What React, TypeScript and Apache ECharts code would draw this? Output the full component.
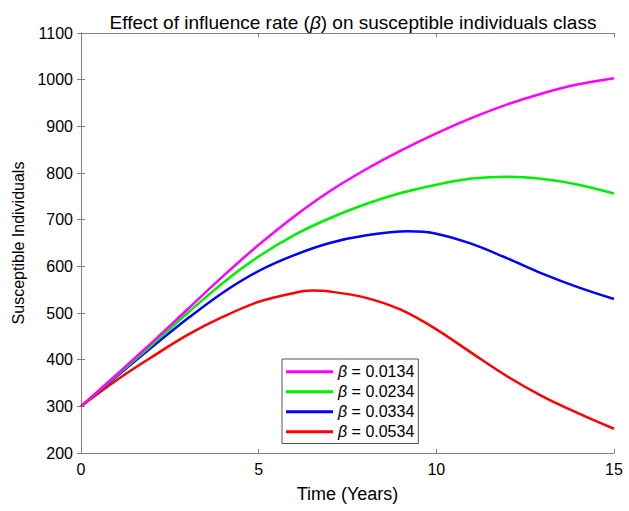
import React, { useEffect, useRef } from "react";
import * as echarts from "echarts";

const times0134 = [0, 1, 2, 3, 4, 5, 6, 7, 8, 9, 10, 11, 12, 13, 14, 15];
const beta0134 = [300, 368, 437, 508, 579, 646, 707, 761, 807, 848, 885, 918, 947, 971, 990, 1003];
const times0234 = [0, 1, 2, 3, 4, 5, 6, 7, 8, 9, 10, 11, 12, 13, 14, 15];
const beta0234 = [300, 366, 432, 500, 565, 621, 667, 703, 733, 757, 775, 788, 792, 787, 775, 756];
const times0334 = [0, 1, 2, 3, 4, 5, 6, 7, 8, 9.2, 10, 11, 12, 13, 14, 15];
const beta0334 = [300, 364, 427, 488, 544, 590, 624, 650, 666, 675, 670, 648, 617, 584, 555, 530];
const times0534 = [0, 1, 2, 3, 4, 5, 6, 6.5, 7, 8, 9, 10, 11, 12, 13, 14, 15];
const beta0534 = [300, 356, 406, 453, 492, 524, 543, 548, 546, 533, 507, 465, 414, 364, 321, 285, 252];
const seriesNames = ["β = 0.0134", "β = 0.0234", "β = 0.0334", "β = 0.0534"];
const seriesColors = ["#ff00ff", "#00ee00", "#0000ff", "#ff0000"];
const xTicks = { min: 0, max: 15, interval: 5 };
const yTicks = { min: 200, max: 1100, interval: 100 };

const FONT = "Liberation Sans, Arial, sans-serif";
const AXIS_COLOR = "#808080";

export default function App() {
  const ref = useRef<HTMLDivElement>(null);
  useEffect(() => {
    if (!ref.current) return;
    const chart = echarts.init(ref.current, undefined, { renderer: "svg" });
    const allTimes = [times0134, times0234, times0334, times0534];
    const allData = [beta0134, beta0234, beta0334, beta0534];
    const axisCommon = {
      axisLine: { show: true, lineStyle: { color: AXIS_COLOR, width: 1 } },
      axisTick: { show: true, inside: true, length: 4, lineStyle: { color: AXIS_COLOR } },
      splitLine: { show: false },
    };
    chart.setOption({
      animation: false,
      backgroundColor: "#ffffff",
      title: {
        text: "Effect of influence rate ({i|β}) on susceptible individuals class",
        left: 348,
        textAlign: "center",
        top: 8,
        textStyle: {
          fontFamily: FONT,
          fontSize: 19,
          fontWeight: "normal",
          color: "#000",
          rich: {
            i: { fontFamily: FONT, fontSize: 19, fontStyle: "italic", color: "#000" },
          },
        },
      },
      grid: { left: 81, right: 15, top: 33, bottom: 58, containLabel: false },
      legend: {
        left: 282,
        top: 359,
        orient: "vertical",
        selectedMode: false,
        backgroundColor: "#ffffff",
        borderColor: "#555555",
        borderWidth: 1,
        padding: [3, 4, 2, 4],
        itemGap: 0.5,
        itemWidth: 47,
        itemHeight: 3,
        icon: "rect",
        formatter: (name: string) => name.replace("β", "{i|β}"),
        textStyle: {
          fontFamily: FONT,
          fontSize: 16,
          color: "#000",
          lineHeight: 19.5,
          rich: {
            i: { fontFamily: FONT, fontSize: 16, fontStyle: "italic", color: "#000", lineHeight: 19.5 },
          },
        },
      },
      xAxis: [
        {
          type: "value",
          ...xTicks,
          ...axisCommon,
          name: "Time (Years)",
          nameLocation: "middle",
          nameGap: 32,
          nameTextStyle: { fontFamily: FONT, fontSize: 18, color: "#000" },
          axisLabel: { fontFamily: FONT, fontSize: 16, color: "#000", margin: 8 },
        },
        {
          type: "value",
          position: "top",
          ...xTicks,
          ...axisCommon,
          axisLabel: { show: false },
        },
      ],
      yAxis: [
        {
          type: "value",
          ...yTicks,
          ...axisCommon,
          name: "Susceptible Individuals",
          nameLocation: "middle",
          nameGap: 44,
          nameTextStyle: { fontFamily: FONT, fontSize: 16, color: "#000" },
          axisLabel: {
            fontFamily: FONT,
            fontSize: 16,
            color: "#000",
            margin: 8,
            formatter: (v: number) => String(v),
          },
        },
        {
          type: "value",
          position: "right",
          ...yTicks,
          ...axisCommon,
          axisLabel: { show: false },
        },
      ],
      series: allData.map((vals, i) => ({
        name: seriesNames[i],
        type: "line",
        xAxisIndex: 0,
        yAxisIndex: 0,
        data: allTimes[i].map((t, j) => [t, vals[j]]),
        smooth: 0.35,
        showSymbol: false,
        symbol: "none",
        lineStyle: { color: seriesColors[i], width: 2.5 },
        itemStyle: { color: seriesColors[i] },
        z: 10 - i,
      })),
    });
    return () => chart.dispose();
  }, []);
  return <div ref={ref} style={{ width: 629, height: 511, position: "absolute", left: 0, top: 0 }} />;
}
